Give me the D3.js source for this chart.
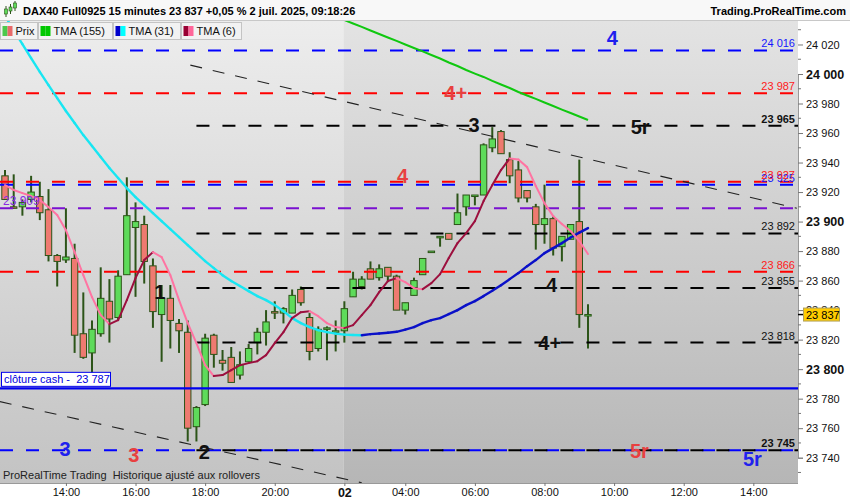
<!DOCTYPE html>
<html>
<head>
<meta charset="utf-8">
<script src="https://cdn.jsdelivr.net/npm/d3@7"></script>
<style>
  body { margin: 0; background: #fff; }
  svg { display: block; font-family: "Liberation Sans", Arial, sans-serif; }
  svg text { white-space: pre; }
</style>
</head>
<body>
<div id="chart-container"></div>
<script>
// Bougies 15 minutes (index 0 = 12:15 la veille)
const opens  = [23931,23910,23910,23915,23917,23908,23877,23874,23875,23824,23811,23824,23846,23835,23864,23896,23898,23870,23837,23848,23831,23825,23761,23776,23823,23806,23808,23796,23805,23818,23825,23839,23838,23838,23854,23835,23814,23828,23825,23826,23849,23856,23868,23862,23869,23863,23840,23850,23864,23880,23890,23892,23898,23910,23918,23918,23950,23961,23942,23935,23921,23910,23898,23902,23883,23888,23900,23837];
const highs  = [23935,23932,23915,23931,23927,23922,23878,23909,23885,23852,23833,23869,23861,23867,23930,23913,23904,23875,23857,23857,23834,23833,23775,23824,23824,23813,23815,23812,23817,23828,23840,23846,23842,23854,23856,23838,23829,23829,23833,23846,23866,23863,23873,23871,23869,23864,23845,23862,23875,23880,23890,23892,23919,23918,23918,23953,23964,23962,23947,23941,23921,23912,23925,23904,23890,23898,23942,23844];
const lows   = [23915,23909,23904,23913,23901,23873,23856,23872,23811,23807,23797,23822,23818,23833,23864,23849,23858,23828,23805,23814,23811,23751,23751,23775,23801,23799,23791,23793,23805,23810,23816,23834,23831,23838,23843,23806,23812,23806,23812,23818,23849,23854,23861,23860,23859,23840,23837,23850,23864,23880,23883,23888,23898,23904,23911,23918,23947,23946,23926,23913,23913,23881,23885,23877,23873,23888,23828,23814];
const closes = [23915,23909,23913,23920,23906,23877,23873,23876,23823,23808,23827,23848,23834,23863,23904,23900,23873,23839,23848,23833,23826,23760,23774,23821,23810,23804,23791,23803,23814,23825,23832,23838,23841,23850,23845,23812,23827,23828,23826,23841,23861,23861,23861,23868,23863,23840,23845,23860,23875,23880,23890,23888,23906,23918,23918,23952,23956,23946,23931,23916,23916,23898,23902,23882,23890,23898,23837,23837];

// Moyennes mobiles triangulaires
const tma6 = [23924.7,23921.4,23919.3,23917.3,23914.6,23909.8,23904.4,23894.2,23879.3,23863.7,23848.8,23836.6,23830.5,23833.2,23846.8,23861.7,23873.9,23879.3,23875.9,23863.7,23846.8,23831.2,23817.6,23802.7,23795.3,23796,23799.3,23802.7,23804.1,23805.4,23809.5,23817.6,23825.1,23834.6,23838.6,23839.3,23835.9,23831.2,23828.5,23827.8,23829.8,23836.6,23843.4,23852.2,23859.7,23861.7,23859,23854.9,23854.2,23858.3,23864.4,23875.3,23885.4,23892.2,23900.3,23913.9,23924.7,23934.9,23942.8,23942.0,23936.9,23924.1,23912.5,23903.7,23898.3,23893.6,23886.8,23878];
const tma31 = [24039.3,24029.8,24020.3,24010.8,24001.4,23992.5,23983.7,23974.9,23966.8,23958.6,23951.2,23943.7,23936.3,23929.5,23922.7,23916.6,23911.2,23905.8,23900.3,23894.9,23889.5,23884.1,23878.6,23873.2,23868.5,23863.7,23859.7,23856.3,23852.9,23849.5,23846.8,23843.4,23839.3,23834.6,23831.2,23828.5,23826.4,23825.1,23824.1,23823.4,23823.1,23823.0,23823.7,23824.2,23824.7,23825.3,23826.8,23828.5,23831.2,23833.2,23834.6,23837.3,23840,23843.4,23846.1,23849.5,23853.2,23856.9,23861,23865.1,23869.8,23873.9,23878.6,23882,23885.4,23889.2,23892.5,23895.6];
const tma155 = Array(38).fill(null).concat([24039,24036.6,24034.2,24031.9,24029.5,24027.1,24024.7,24022.4,24020,24017.6,24015.3,24012.9,24010.5,24007.8,24005.4,24002.7,24000.3,23998,23995.3,23992.9,23990.5,23987.8,23985.4,23983.1,23980.7,23978.3,23975.9,23973.6,23971.2,23968.8]);

// Axe du temps
const tickIdx = [7, 15, 23, 31, 39, 46, 54, 62, 70, 78, 86];
const tickLabels = ["14:00", "16:00", "18:00", "20:00", "02", "04:00", "06:00", "08:00", "10:00", "12:00", "14:00"];

// Niveaux horizontaux
const blueLevels = [24016, 23925, 23745];
const redLevels = [23987, 23927, 23866];
const blackLevels = [23965, 23892, 23855, 23818, 23745];
const purpleLevels = [23909];
const cashClose = 23787;
const lastPrice = 23837;

// Lignes de tendance [index, prix]
const trendTop = [[21.3, 24006], [91, 23909]];
const trendBottom = [[-0.6, 23778], [41, 23723]];

// Comptage des vagues
const waveText  = ["4", "4+", "3", "5r", "4", "1", "4", "4+", "2", "3", "3", "5r", "5r"];
const waveIdx   = [69.8, 51.8, 53.9, 73, 45.7, 17.8, 62.8, 62.6, 22.9, 6.9, 14.8, 72.9, 85.9];
const wavePrice = [24024.4, 23987.1, 23965.4, 23964, 23930.9, 23852.3, 23857, 23817.7, 23743.9, 23745.9, 23741.8, 23744.5, 23739];
const waveColor = ["blue", "red", "black", "black", "red", "black", "black", "black", "black", "blue", "red", "red", "blue"];

document.addEventListener("DOMContentLoaded", () => {
    const width = 850;
    const height = 500;
    const plotTop = 21;
    const plotBottom = 483;
    const plotRight = 798;

    const x = d3.scaleLinear().domain([0, 67]).range([5, 588]);
    const y = d3.scaleLinear().domain([23740, 24000]).range([457.7, 74]);

    const fmt = d3.formatLocale({ decimal: ",", thousands: " ", grouping: [3], currency: ["", ""] }).format(",d");

    const svg = d3.select("#chart-container")
        .append("svg")
        .attr("width", width)
        .attr("height", height)
        .attr("viewBox", [0, 0, width, height]);

    const defs = svg.append("defs");
    defs.append("clipPath").attr("id", "plot-clip")
        .append("rect")
        .attr("x", 0).attr("y", plotTop)
        .attr("width", plotRight).attr("height", plotBottom - plotTop);

    const grad = (id, top, bottom) => {
        const g = defs.append("linearGradient").attr("id", id)
            .attr("x1", 0).attr("y1", 0).attr("x2", 0).attr("y2", 1);
        g.append("stop").attr("offset", "0%").attr("stop-color", top);
        g.append("stop").attr("offset", "100%").attr("stop-color", bottom);
    };
    grad("bg-prev", "#ededed", "#c3c3c3");
    grad("bg-day", "#e3e3e3", "#b6b6b6");

    // Fonds
    svg.append("rect").attr("width", width).attr("height", height).attr("fill", "#ffffff");
    const dayStart = x(39) - 1;
    svg.append("rect")
        .attr("x", 0).attr("y", plotTop)
        .attr("width", dayStart).attr("height", plotBottom - plotTop)
        .attr("fill", "url(#bg-prev)");
    svg.append("rect")
        .attr("x", dayStart).attr("y", plotTop)
        .attr("width", plotRight - dayStart).attr("height", plotBottom - plotTop)
        .attr("fill", "url(#bg-day)");

    const plot = svg.append("g").attr("clip-path", "url(#plot-clip)");

    // Bougies
    const candles = d3.range(opens.length).map(i => ({
        i, o: opens[i], h: highs[i], l: lows[i], c: closes[i]
    }));
    const cg = plot.append("g");
    cg.selectAll("line")
        .data(candles)
        .join("line")
        .attr("x1", d => x(d.i)).attr("x2", d => x(d.i))
        .attr("y1", d => y(d.h)).attr("y2", d => y(d.l))
        .attr("stroke", "#2c5418")
        .attr("stroke-width", 2);
    cg.selectAll("rect")
        .data(candles)
        .join("rect")
        .attr("x", d => x(d.i) - 3.2)
        .attr("width", 6.4)
        .attr("y", d => y(Math.max(d.o, d.c)))
        .attr("height", d => Math.max(1.5, Math.abs(y(d.o) - y(d.c))))
        .attr("fill", d => d.c >= d.o ? "#5edb5a" : "#ee7a70")
        .attr("stroke", "#2c5418")
        .attr("stroke-width", 1);

    // Niveaux
    const levels = plot.append("g").attr("stroke-width", 2).attr("stroke-dasharray", "13,13");
    const drawLevels = (vals, color, x0) => levels.append("g")
        .attr("stroke", color)
        .selectAll("line")
        .data(vals)
        .join("line")
        .attr("x1", x0).attr("x2", plotRight)
        .attr("y1", d => y(d)).attr("y2", d => y(d));
    drawLevels(purpleLevels, "#7a10d0", 0);
    drawLevels(redLevels, "#ff0000", 0);
    drawLevels(blueLevels, "#0000ff", 0);
    drawLevels(blackLevels, "#000000", x(22));

    plot.append("line")
        .attr("x1", 0).attr("x2", plotRight)
        .attr("y1", y(cashClose)).attr("y2", y(cashClose))
        .attr("stroke", "#0000ee").attr("stroke-width", 2.2);

    // Lignes de tendance
    plot.append("g")
        .selectAll("line")
        .data([trendTop, trendBottom])
        .join("line")
        .attr("x1", d => x(d[0][0])).attr("y1", d => y(d[0][1]))
        .attr("x2", d => x(d[1][0])).attr("y2", d => y(d[1][1]))
        .attr("stroke", "#222")
        .attr("stroke-width", 1.1)
        .attr("stroke-dasharray", "12,11");

    // Moyennes mobiles
    const line = d3.line().defined(d => d != null).x((d, i) => x(i)).y(d => y(d));
    plot.append("path")
        .attr("d", line(tma155))
        .attr("fill", "none")
        .attr("stroke", "#10c810")
        .attr("stroke-width", 2);

    const segments = (vals, up, down, w) => plot.append("g")
        .attr("stroke-width", w)
        .attr("stroke-linecap", "round")
        .selectAll("line")
        .data(d3.pairs(vals.map((v, i) => [i, v])))
        .join("line")
        .attr("x1", d => x(d[0][0])).attr("y1", d => y(d[0][1]))
        .attr("x2", d => x(d[1][0])).attr("y2", d => y(d[1][1]))
        .attr("stroke", d => d[1][1] >= d[0][1] ? up : down);
    segments(tma31, "#0a10c8", "#18e6f2", 2.4);
    segments(tma6, "#9c0f3e", "#ff74a2", 2);

    // Étiquettes des niveaux (à droite)
    const levelLabels = [
        ...blueLevels.filter(v => v !== 23745).map(v => ({ v, c: "#1515ff", b: false })),
        ...redLevels.map(v => ({ v, c: "#ff2020", b: false })),
        ...blackLevels.map(v => ({ v, c: "#111", b: v === 23965 || v === 23745 }))
    ];
    svg.append("g")
        .attr("font-size", 11)
        .attr("text-anchor", "end")
        .selectAll("text")
        .data(levelLabels)
        .join("text")
        .attr("x", 795)
        .attr("y", d => y(d.v) - 3)
        .attr("fill", d => d.c)
        .attr("font-weight", d => d.b ? "bold" : "normal")
        .text(d => fmt(d.v));

    svg.append("g")
        .attr("font-size", 12)
        .selectAll("text")
        .data(purpleLevels)
        .join("text")
        .attr("x", 3)
        .attr("y", d => y(d) - 3)
        .attr("fill", "#8a2be2")
        .text(d => fmt(d));

    // Clôture cash
    const cashY = y(cashClose);
    svg.append("rect")
        .attr("x", 1.5).attr("y", cashY - 16)
        .attr("width", 109).attr("height", 14)
        .attr("fill", "#fff").attr("stroke", "#0000ee");
    svg.append("text")
        .attr("x", 4).attr("y", cashY - 5)
        .attr("font-size", 11)
        .attr("fill", "#0000dd")
        .text(`clôture cash -  ${fmt(cashClose)}`);

    // Comptage des vagues
    svg.append("g")
        .attr("font-size", 20)
        .attr("font-weight", "bold")
        .attr("text-anchor", "middle")
        .selectAll("text")
        .data(waveText)
        .join("text")
        .attr("x", (d, i) => x(waveIdx[i]))
        .attr("y", (d, i) => y(wavePrice[i]))
        .attr("dy", "0.36em")
        .attr("fill", (d, i) => waveColor[i] === "blue" ? "#2020ee" : waveColor[i] === "red" ? "#e84040" : "#111")
        .text(d => d);

    svg.append("text")
        .attr("x", 3).attr("y", 479)
        .attr("font-size", 11)
        .attr("fill", "#222")
        .text("ProRealTime Trading  Historique ajusté aux rollovers");

    // Axe des prix
    svg.append("rect").attr("x", plotRight).attr("y", plotTop)
        .attr("width", width - plotRight).attr("height", height - plotTop).attr("fill", "#fff");
    svg.append("rect").attr("x", 0).attr("y", plotBottom)
        .attr("width", width).attr("height", height - plotBottom).attr("fill", "#fff");

    svg.append("g")
        .attr("transform", `translate(${plotRight},0)`)
        .call(d3.axisRight(y).tickValues(d3.range(23740, 24021, 20)).tickSize(5).tickPadding(3).tickFormat(fmt))
        .call(g => g.select(".domain").attr("stroke", "#999"))
        .call(g => g.selectAll(".tick line").attr("stroke", "#777"))
        .call(g => g.selectAll("text")
            .attr("fill", "#111")
            .attr("font-family", "Liberation Sans, Arial, sans-serif")
            .attr("font-size", d => d % 100 === 0 ? 12.5 : 11)
            .attr("font-weight", d => d % 100 === 0 ? "bold" : "normal"));

    svg.append("g")
        .attr("stroke", "#777")
        .selectAll("line")
        .data(d3.range(23730, 24031, 10).filter(v => v % 20 !== 0))
        .join("line")
        .attr("x1", plotRight).attr("x2", plotRight + 3)
        .attr("y1", d => y(d)).attr("y2", d => y(d));

    // Dernier cours
    svg.append("line")
        .attr("x1", plotRight).attr("x2", plotRight + 5)
        .attr("y1", y(lastPrice)).attr("y2", y(lastPrice))
        .attr("stroke", "#000").attr("stroke-width", 1.5);
    svg.append("rect")
        .attr("x", 803.5).attr("y", y(lastPrice) - 6.5)
        .attr("width", 36).attr("height", 13)
        .attr("fill", "#ffcc00").attr("stroke", "#b0a060");
    svg.append("text")
        .attr("x", 806).attr("y", y(lastPrice) + 4)
        .attr("font-size", 11)
        .attr("fill", "#000")
        .text(fmt(lastPrice));

    // Axe du temps
    svg.append("g")
        .attr("transform", `translate(0,${plotBottom})`)
        .call(d3.axisBottom(x).tickValues(tickIdx).tickSize(3).tickPadding(2).tickFormat((d, i) => tickLabels[i]))
        .call(g => g.select(".domain").attr("stroke", "#999").attr("d", `M0,0.5H${plotRight}`))
        .call(g => g.selectAll(".tick line").attr("stroke", "#777"))
        .call(g => g.selectAll("text")
            .attr("fill", "#111")
            .attr("font-family", "Liberation Sans, Arial, sans-serif")
            .attr("font-size", (d, i) => tickLabels[i] === "02" ? 12.5 : 11)
            .attr("font-weight", (d, i) => tickLabels[i] === "02" ? "bold" : "normal"));

    // En-tête
    svg.append("rect").attr("width", width).attr("height", plotTop).attr("fill", "#f8f8f8");
    svg.append("line").attr("x1", 0).attr("x2", width).attr("y1", plotTop - 0.5).attr("y2", plotTop - 0.5).attr("stroke", "#c8c8c8");

    const icon = svg.append("g");
    [[6, 9, 14, 6, 17], [10.5, 7, 11, 4, 14], [15, 3, 8, 1, 11]].forEach(([cx, b0, b1, w0, w1]) => {
        icon.append("line").attr("x1", cx).attr("x2", cx).attr("y1", w0).attr("y2", w1).attr("stroke", "#2c5418").attr("stroke-width", 1);
        icon.append("rect").attr("x", cx - 1.5).attr("y", b0).attr("width", 3).attr("height", b1 - b0).attr("fill", "#5edb5a").attr("stroke", "#2c5418").attr("stroke-width", 0.6);
    });

    svg.append("text")
        .attr("x", 23).attr("y", 15)
        .attr("font-size", 11).attr("font-weight", "bold").attr("fill", "#000")
        .text("DAX40 Full0925 15 minutes 23 837 +0,05 % 2 juil. 2025, 09:18:26");
    svg.append("text")
        .attr("x", 846).attr("y", 15)
        .attr("text-anchor", "end")
        .attr("font-size", 11).attr("font-weight", "bold").attr("fill", "#000")
        .text("Trading.ProRealTime.com");

    // Légende
    const legend = [
        { label: "Prix", x: 0, w: 37, c: ["#4cc94c", "#e86a6a"] },
        { label: "TMA (155)", x: 38, w: 74, c: ["#00c800", "#00c800"] },
        { label: "TMA (31)", x: 113, w: 67, c: ["#0000cc", "#00ffff"] },
        { label: "TMA (6)", x: 181, w: 60, c: ["#990033", "#ff6699"] }
    ];
    const lg = svg.append("g").selectAll("g").data(legend).join("g")
        .attr("transform", d => `translate(${d.x},${plotTop + 1})`);
    lg.append("rect")
        .attr("x", 0.5).attr("y", 0.5).attr("width", d => d.w).attr("height", 17)
        .attr("fill", "#f2f2f2").attr("stroke", "#c4c4c4");
    lg.append("rect").attr("x", 2.5).attr("y", 4).attr("width", 5).attr("height", 10).attr("fill", d => d.c[0]);
    lg.append("rect").attr("x", 7.5).attr("y", 4).attr("width", 5).attr("height", 10).attr("fill", d => d.c[1]);
    lg.append("text")
        .attr("x", 15.5).attr("y", 13)
        .attr("font-size", 11).attr("fill", "#111")
        .text(d => d.label);
});
</script>
</body>
</html>
